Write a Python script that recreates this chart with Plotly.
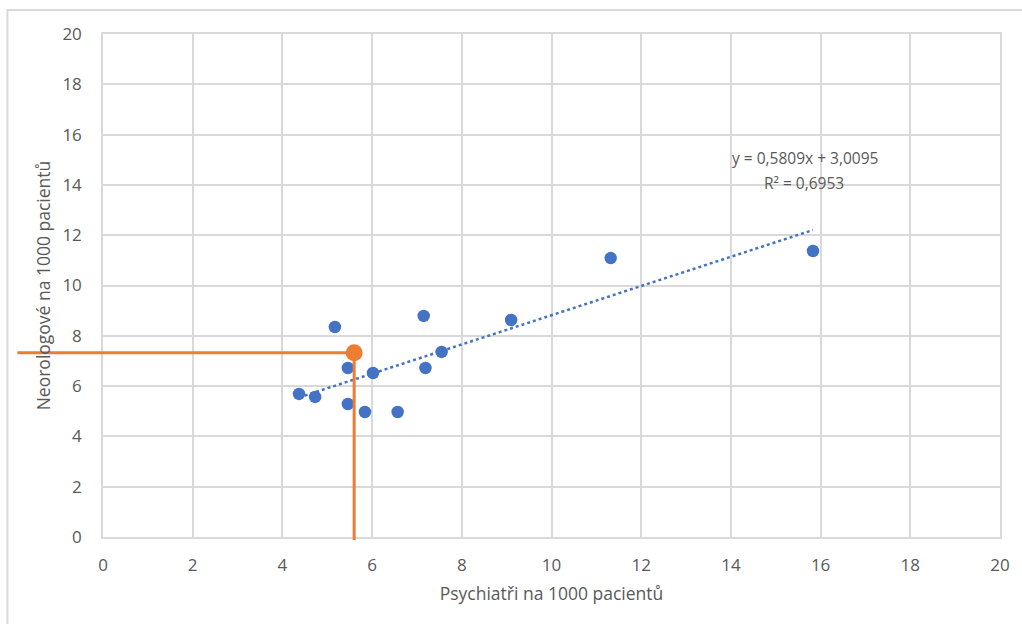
import plotly.graph_objects as go
import numpy as np

# Data
psychiatri = [4.37, 4.73, 5.17, 5.46, 5.46, 5.84, 6.02, 6.57, 7.15, 7.19, 7.55, 9.10, 11.32, 15.83]
neurologove = [5.69, 5.57, 8.35, 6.72, 5.29, 4.97, 6.52, 4.97, 8.79, 6.72, 7.36, 8.63, 11.09, 11.37]
highlight_x = [5.60]
highlight_y = [7.33]
slope = 0.5809
intercept = 3.0095
r2 = 0.6953

W, H = 1022, 624
L, R, T, B = 103, 18, 34, 87
pw, ph = W - L - R, H - T - B

def px_x(p):
    return (p - L) / pw

def px_y(p):
    return 1 - (p - T) / ph

blue = "#4472C4"
orange = "#ED7D31"
grid = "#D9D9D9"
txt = "#595959"
font = "Open Sans"

fig = go.Figure()

tx = np.array([min(psychiatri), max(psychiatri)])
fig.add_trace(go.Scatter(x=tx, y=slope * tx + intercept, mode="lines",
                         line=dict(color=blue, width=2.5, dash="dot"),
                         hoverinfo="skip", showlegend=False))

fig.add_trace(go.Scatter(x=psychiatri, y=neurologove, mode="markers",
                         marker=dict(color=blue, size=12.5),
                         showlegend=False))

# Orange guide lines
fig.add_shape(type="line", xref="paper", yref="y",
              x0=px_x(17), x1=0, y0=highlight_y[0], y1=highlight_y[0],
              line=dict(color=orange, width=3), layer="above")
fig.add_shape(type="line", xref="x", yref="y",
              x0=0, x1=highlight_x[0], y0=highlight_y[0], y1=highlight_y[0],
              line=dict(color=orange, width=3), layer="above")
fig.add_shape(type="line", xref="x", yref="paper",
              x0=highlight_x[0], x1=highlight_x[0], y0=px_y(540), y1=0,
              line=dict(color=orange, width=3), layer="above")
fig.add_shape(type="line", xref="x", yref="y",
              x0=highlight_x[0], x1=highlight_x[0], y0=0, y1=highlight_y[0],
              line=dict(color=orange, width=3), layer="above")

fig.add_trace(go.Scatter(x=highlight_x, y=highlight_y, mode="markers",
                         marker=dict(color=orange, size=17),
                         showlegend=False, cliponaxis=False))

# Outer chart border
fig.add_shape(type="rect", xref="paper", yref="paper",
              x0=px_x(7), x1=px_x(1040), y0=px_y(10), y1=px_y(660),
              line=dict(color=grid, width=2), layer="below")

fmt = lambda v: f"{v:.4f}".replace(".", ",")
fig.add_annotation(x=15.65, y=15.07, xref="x", yref="y",
                   text=f"y = {fmt(slope)}x + {fmt(intercept)}",
                   showarrow=False, align="center",
                   font=dict(family=font, size=15.5, color=txt))
fig.add_annotation(x=15.62, y=14.08, xref="x", yref="y",
                   text=f"R\u00b2 = {fmt(r2)}",
                   showarrow=False, align="center",
                   font=dict(family=font, size=15.5, color=txt))

axis_common = dict(range=[0, 20], dtick=2, showgrid=True, gridcolor=grid, gridwidth=1.5,
                   showline=True, linecolor=grid, linewidth=1.5, mirror=True,
                   zeroline=False, ticks="outside", tickcolor="rgba(0,0,0,0)",
                   tickfont=dict(family=font, size=17, color=txt),
                   fixedrange=True)

fig.update_xaxes(**axis_common, ticklen=12,
                 title=dict(text="Psychiatři na 1000 pacientů", standoff=13,
                            font=dict(family=font, size=17.5, color=txt)))
fig.update_yaxes(**axis_common, ticklen=16,
                 title=dict(text="Neorologové na 1000 pacientů", standoff=7,
                            font=dict(family=font, size=17.5, color=txt)))

fig.update_layout(width=W, height=H, margin=dict(l=L, r=R, t=T, b=B),
                  plot_bgcolor="white", paper_bgcolor="white",
                  showlegend=False)

fig.write_html("out.html")
